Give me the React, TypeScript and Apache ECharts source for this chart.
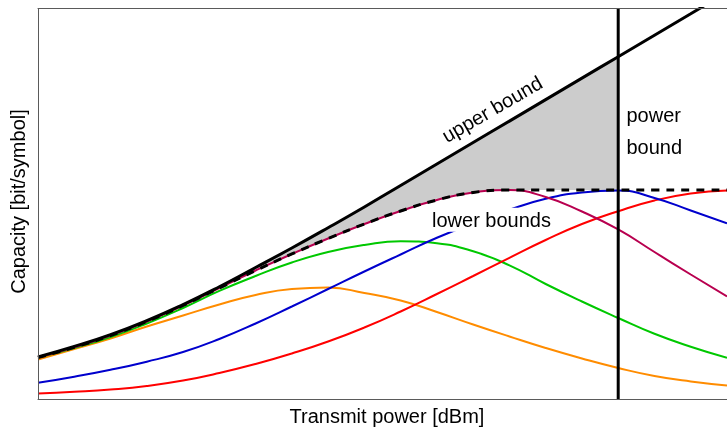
import React, { useEffect, useRef } from "react";
import * as echarts from "echarts";

// Transmit power samples (dBm) – the axis carries no tick labels
const POWER_DBM = [-10, -7.5, -5, -2.5, 0, 2.5, 5, 7.5, 10, 12.5, 15, 17.5, 20, 22.5, 25, 27.5, 30, 32.5, 35, 37.5];

// Capacity (bit/symbol)
const UPPER_BOUND = [1.22, 1.52, 1.86, 2.26, 2.72, 3.23, 3.78, 4.34, 4.92, 5.515, 6.13, 6.745, 7.36, 7.975, 8.59, 9.205, 9.82, 10.435, 11.05, 11.665];
const LB_MAROON = [1.203, 1.495, 1.833, 2.234, 2.693, 3.194, 3.695, 4.168, 4.612, 5.027, 5.4, 5.715, 5.93, 6.0, 5.801, 5.385, 4.87, 4.225, 3.581, 2.95];
const LB_BLUE = [0.478, 0.653, 0.851, 1.084, 1.361, 1.733, 2.177, 2.664, 3.165, 3.667, 4.154, 4.632, 5.047, 5.434, 5.749, 5.93, 5.987, 5.772, 5.414, 5.047];
const LB_GREEN = [1.2, 1.475, 1.79, 2.177, 2.621, 3.11, 3.538, 3.924, 4.225, 4.426, 4.532, 4.474, 4.245, 3.844, 3.308, 2.807, 2.335, 1.882, 1.51, 1.194];
const LB_ORANGE = [1.146, 1.447, 1.747, 2.091, 2.406, 2.721, 2.993, 3.165, 3.208, 3.051, 2.836, 2.506, 2.148, 1.805, 1.475, 1.174, 0.902, 0.673, 0.516, 0.401];
const LB_RED = [0.172, 0.221, 0.286, 0.387, 0.544, 0.759, 1.017, 1.318, 1.661, 2.062, 2.521, 3.022, 3.538, 4.059, 4.569, 5.027, 5.394, 5.7, 5.901, 5.987];

const POWER_BOUND_DBM = 30;
const X_RANGE = [-10, 37.5];
const Y_RANGE = [0, 11.2];

const FONT = "'Liberation Sans', Arial, Helvetica, sans-serif";
const SMOOTH = 0.5;

const pairs = (xs: number[], ys: number[]) => xs.map((x, i) => [x, ys[i]]);

export default function App() {
  const ref = useRef<HTMLDivElement>(null);

  useEffect(() => {
    const chart = echarts.init(ref.current!, null, { renderer: "svg" });

    const lowers = [LB_ORANGE, LB_GREEN, LB_RED, LB_BLUE, LB_MAROON];
    let run = -Infinity;
    const envelope = POWER_DBM.map((_, i) => {
      run = Math.max(run, ...lowers.map((s) => s[i]));
      return run;
    });
    const idx = POWER_DBM.map((_, i) => i).filter((i) => POWER_DBM[i] <= POWER_BOUND_DBM);
    const upperFill = idx.map((i) => [POWER_DBM[i], UPPER_BOUND[i]]);
    const lowerFill = idx.map((i) => [POWER_DBM[i], envelope[i]]);

    const axisCommon = {
      type: "value" as const,
      axisLabel: { show: false },
      axisTick: { show: false },
      splitLine: { show: false },
      axisLine: { show: true, onZero: false, lineStyle: { color: "#5a5a5a", width: 1 } },
      z: 10,
    };

    const curve = (name: string, ys: number[], color: string) => ({
      name,
      type: "line",
      data: pairs(POWER_DBM, ys),
      smooth: SMOOTH,
      showSymbol: false,
      silent: true,
      lineStyle: { color, width: 2 },
      z: 3,
    });

    const text = (t: string, x: number, y: number, extra: any = {}, rotation = 0) => ({
      type: "text",
      x,
      y,
      rotation,
      z: 100,
      style: {
        text: t,
        fontSize: 20,
        fontFamily: FONT,
        fill: "#000",
        align: extra.align || "left",
        textAlign: extra.align || "left",
        verticalAlign: "middle",
        textVerticalAlign: "middle",
        ...extra.style,
      },
    });

    chart.setOption({
      animation: false,
      grid: { left: 38, right: -2, top: 8.5, bottom: 27.5, show: false },
      xAxis: [
        { ...axisCommon, min: X_RANGE[0], max: X_RANGE[1], position: "bottom" },
        { ...axisCommon, min: X_RANGE[0], max: X_RANGE[1], position: "top" },
      ],
      yAxis: { ...axisCommon, min: Y_RANGE[0], max: Y_RANGE[1], position: "left" },
      series: [
        {
          name: "gap",
          type: "line",
          data: upperFill,
          smooth: SMOOTH,
          showSymbol: false,
          silent: true,
          lineStyle: { width: 0, opacity: 0 },
          areaStyle: { color: "#cccccc", opacity: 1, origin: "start" },
          z: 1,
        },
        {
          name: "below",
          type: "line",
          data: lowerFill,
          smooth: SMOOTH,
          showSymbol: false,
          silent: true,
          lineStyle: { width: 0, opacity: 0 },
          areaStyle: { color: "#ffffff", opacity: 1, origin: "start" },
          z: 1,
        },
        curve("orange", LB_ORANGE, "#ff8c00"),
        curve("green", LB_GREEN, "#00c800"),
        curve("red", LB_RED, "#ff0000"),
        curve("blue", LB_BLUE, "#0000cd"),
        curve("maroon", LB_MAROON, "#b8004f"),
        {
          name: "lower bound envelope",
          type: "line",
          data: pairs(POWER_DBM, envelope),
          smooth: SMOOTH,
          showSymbol: false,
          silent: true,
          lineStyle: { color: "#000", width: 3, type: [8, 7] },
          z: 4,
        },
        {
          name: "upper bound",
          type: "line",
          data: pairs(POWER_DBM, UPPER_BOUND),
          smooth: SMOOTH,
          showSymbol: false,
          silent: true,
          lineStyle: { color: "#000", width: 3 },
          z: 5,
        },
        {
          name: "power bound",
          type: "line",
          data: [
            [POWER_BOUND_DBM, Y_RANGE[0]],
            [POWER_BOUND_DBM, Y_RANGE[1]],
          ],
          showSymbol: false,
          silent: true,
          lineStyle: { color: "#000", width: 3 },
          z: 6,
        },
      ],
      graphic: [
        text("Capacity [bit/symbol]", 18, 201.5, { align: "center" }, Math.PI / 2),
        text("Transmit power [dBm]", 387, 416, { align: "center" }),
        text("upper bound", 492, 109, { align: "center" }, Math.PI / 6),
        text("power", 626.5, 115),
        text("bound", 626.5, 147),
        text("lower bounds", 430, 219.8, { style: { backgroundColor: "#ffffff", padding: [2, 2] } }),
      ],
    });

    return () => chart.dispose();
  }, []);

  return (
    <div
      ref={ref}
      style={{ position: "fixed", left: 0, top: 0, width: 727, height: 427 }}
    />
  );
}
